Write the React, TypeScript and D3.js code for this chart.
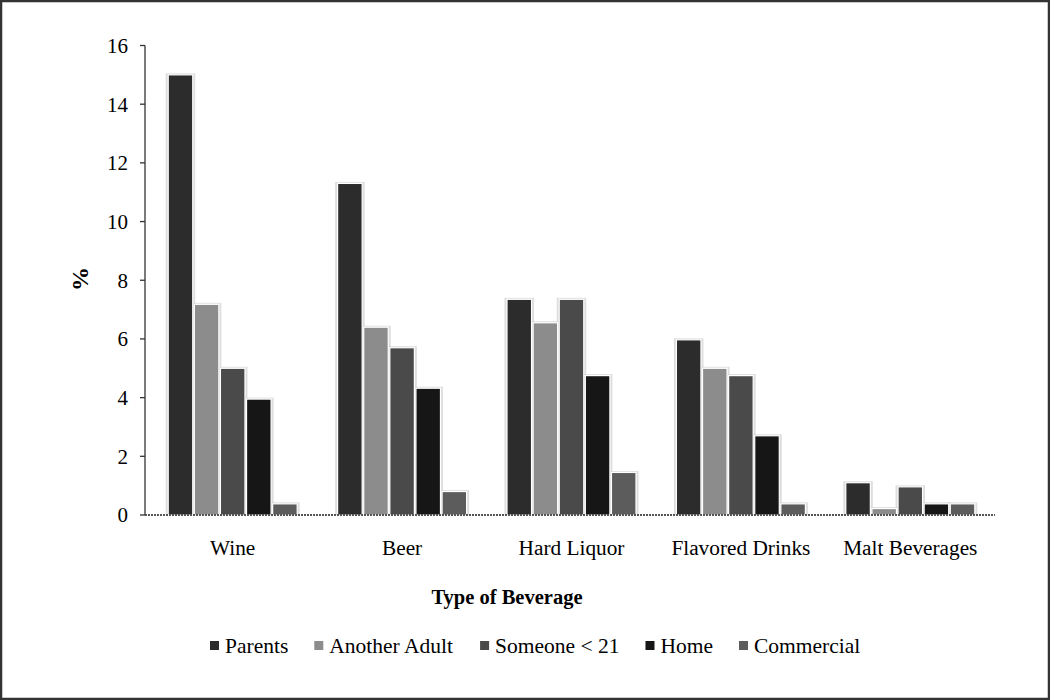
import React from "react";
import * as d3 from "d3";

const categories = ["Wine", "Beer", "Hard Liquor", "Flavored Drinks", "Malt Beverages"];
const seriesNames = ["Parents", "Another Adult", "Someone < 21", "Home", "Commercial"];
const parents = [15.0, 11.3, 7.35, 5.97, 1.1];
const anotherAdult = [7.18, 6.4, 6.55, 5.0, 0.22];
const someoneUnder21 = [5.0, 5.7, 7.35, 4.75, 0.96];
const home = [3.95, 4.32, 4.75, 2.7, 0.38];
const commercial = [0.38, 0.8, 1.45, 0.38, 0.38];
const yTicks = [0, 2, 4, 6, 8, 10, 12, 14, 16];
const seriesColors = ["#2c2c2c", "#8c8c8c", "#4a4a4a", "#161616", "#5c5c5c"];

const seriesValues = [parents, anotherAdult, someoneUnder21, home, commercial];

const W = 1050;
const H = 700;
const FONT = "'Liberation Serif', 'Times New Roman', serif";

function measure(text: string, font: string): number {
  const c = document.createElement("canvas").getContext("2d");
  if (!c) return text.length * 9;
  c.font = font;
  return c.measureText(text).width;
}

export default function App() {
  const x = d3.scaleBand<string>().domain(categories).range([148, 995]).paddingInner(0).paddingOuter(0);
  const groupW = 129;
  const xs = d3
    .scaleBand<string>()
    .domain(seriesNames)
    .range([-groupW / 2, groupW / 2])
    .paddingInner(0.06)
    .paddingOuter(0);
  const y = d3.scaleLinear().domain([0, 16]).range([515, 45.5]);

  const bars: any[] = [];
  categories.forEach((cat, ci) => {
    seriesNames.forEach((s, si) => {
      const v = seriesValues[si][ci];
      const cx = (x(cat) as number) + x.bandwidth() / 2;
      bars.push({
        key: cat + s,
        x: cx + (xs(s) as number),
        w: xs.bandwidth(),
        y0: y(v),
        h: y(0) - y(v),
        color: seriesColors[si],
      });
    });
  });

  // legend layout
  const legSize = 21.5;
  const legFont = `${legSize}px ${FONT}`;
  const legendItems: any[] = [];
  let lx = 210;
  seriesNames.forEach((s, i) => {
    const tw = measure(s, legFont);
    legendItems.push({ name: s, x: lx, color: seriesColors[i] });
    lx += 9 + 6 + tw + 26;
  });

  return (
    <svg
      width={W}
      height={H}
      style={{ position: "absolute", left: 0, top: 0, background: "#fff" }}
      fontFamily={FONT}
    >
      <rect x={0} y={0} width={W} height={H} fill="#fff" />
      {/* frame */}
      <rect x={1} y={1} width={W - 2} height={H - 2} fill="none" stroke="#333" strokeWidth={2.5} />

      {/* bar halos */}
      {bars.map((b) => (
        <rect
          key={"h" + b.key}
          x={b.x - 2.5}
          y={b.y0 - 1.5}
          width={b.w + 5}
          height={b.h + 1.5}
          fill="#c8c8c8"
          opacity={0.6}
        />
      ))}
      {/* bars */}
      {bars.map((b) => (
        <rect
          key={b.key}
          x={b.x}
          y={b.y0}
          width={b.w}
          height={b.h}
          fill={b.color}
          stroke="#fff"
          strokeWidth={1.2}
        />
      ))}

      {/* y axis */}
      <line x1={145} x2={145} y1={y(16)} y2={y(0)} stroke="#333" strokeWidth={1.3} />
      {yTicks.map((t) => (
        <g key={t}>
          <line x1={140} x2={145} y1={y(t)} y2={y(t)} stroke="#333" strokeWidth={1.3} />
          <text x={128} y={y(t)} dy="0.35em" textAnchor="end" fontSize={21} fill="#000">
            {t}
          </text>
        </g>
      ))}
      {/* x axis */}
      <line x1={145} x2={995} y1={y(0)} y2={y(0)} stroke="#555" strokeWidth={2} strokeDasharray="2 1" />
      {categories.map((c) => (
        <text
          key={c}
          x={(x(c) as number) + x.bandwidth() / 2}
          y={555}
          textAnchor="middle"
          fontSize={21.3}
          fill="#000"
        >
          {c}
        </text>
      ))}

      {/* axis titles */}
      <text x={507} y={604} textAnchor="middle" fontSize={20.5} fontWeight="bold" fill="#000">
        Type of Beverage
      </text>
      <text
        transform={`translate(88,279) rotate(-90)`}
        textAnchor="middle"
        fontSize={24}
        fontWeight="bold"
        fill="#000"
      >
        %
      </text>

      {/* legend */}
      {legendItems.map((it) => (
        <g key={it.name}>
          <rect x={it.x} y={641} width={9} height={9} fill={it.color} />
          <text x={it.x + 15} y={653} fontSize={legSize} fill="#000">
            {it.name}
          </text>
        </g>
      ))}
    </svg>
  );
}
